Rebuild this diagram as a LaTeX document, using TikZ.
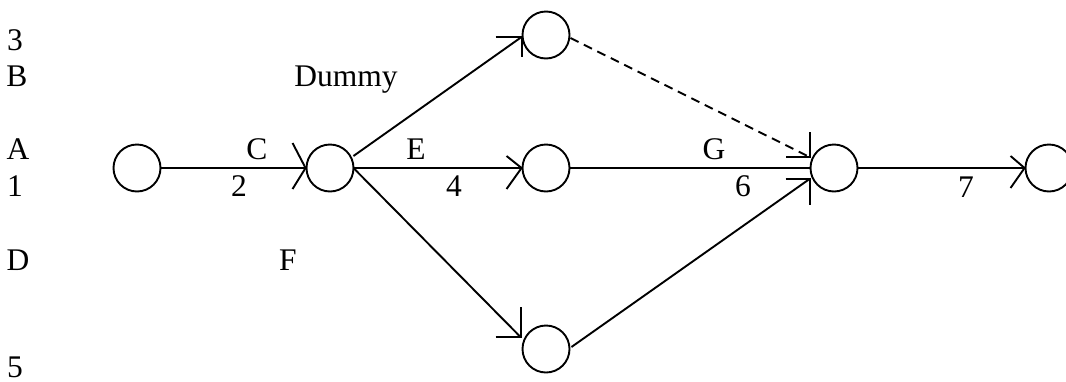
\documentclass[tikz,border=0pt]{standalone}
\usepackage{fontspec}
\setmainfont{Liberation Serif}
\usetikzlibrary{calc}
\begin{document}
\begin{tikzpicture}[x=1pt,y=-1pt,line width=1.9pt,
  event/.style={circle,draw,minimum size=47pt,inner sep=0pt},
  lbl/.style={anchor=base,inner sep=0pt,font=\fontsize{31.5}{36}\selectfont}]
\useasboundingbox (0,0) rectangle (1066,381);
% events
\node[event] (n1) at (137,168) {};
\node[event] (n2) at (330,168) {};
\node[event] (T)  at (546,35) {};
\node[event] (M)  at (546,168) {};
\node[event] (Bt) at (546,349) {};
\node[event] (R)  at (834,168) {};
\node[event] (F)  at (1049,168) {};
% named tip points
\coordinate (tT) at ($(T.west)+(0,2)$);
\coordinate (tB) at ($(Bt.west)+(-1,-12)$);
\coordinate (tRd) at ($(R.west)+(0,-11)$);
\coordinate (tRb) at ($(R.west)+(0,11)$);
% activities
\draw (n1.east) -- (n2.west);
\draw (n2.east) -- (M.west);
\draw ($(n2.east)+(-1,-12)$) -- (tT);
\draw ($(n2.east)+(0,1)$) -- (tB);
\draw (M.east) -- (R.west);
\draw[dashed,dash pattern=on 9pt off 6pt] ($(T.east)+(0,3)$) -- (tRd);
\draw ($(Bt.east)+(1,-2)$) -- (tRb);
\draw (R.east) -- (F.west);
% arrow heads
\draw ($(n2.west)+(-13,-25)$) -- (n2.west) -- ++(-13,21);
\draw ($(M.west)+(-15,-12)$) -- (M.west) -- ++(-15,21);
\draw ($(F.west)+(-14,-12)$) -- (F.west) -- ++(-14,20);
\draw ($(tT)+(-26,0)$) -- (tT) -- ++(0,20);
\draw ($(tB)+(-25,0)$) -- (tB) -- ++(0,-30);
\draw ($(tRd)+(0,-25)$) -- (tRd) -- ++(-24,0);
\draw ($(tRb)+(-24,0)$) -- (tRb) -- ++(0,26);
% labels
\node[lbl] (l3) at (15,50) {3};
\node[lbl] (lB) at (17,86) {B};
\node[lbl] (lA) at (18,159) {A};
\node[lbl] (l1) at (15,196) {1};
\node[lbl] (lD) at (18,270) {D};
\node[lbl] (l5) at (15,377) {5};
\node[lbl] (lDum) at (346,86) {Dummy};
\node[lbl] (lC) at (257,159) {C};
\node[lbl] (l2) at (239,196) {2};
\node[lbl] (lF) at (288,270) {F};
\node[lbl] (lE) at (416,159) {E};
\node[lbl] (l4) at (454,196) {4};
\node[lbl] (lG) at (714,159) {G};
\node[lbl] (l6) at (743,196) {6};
\node[lbl] (l7) at (966,197) {7};
\end{tikzpicture}
\end{document}
